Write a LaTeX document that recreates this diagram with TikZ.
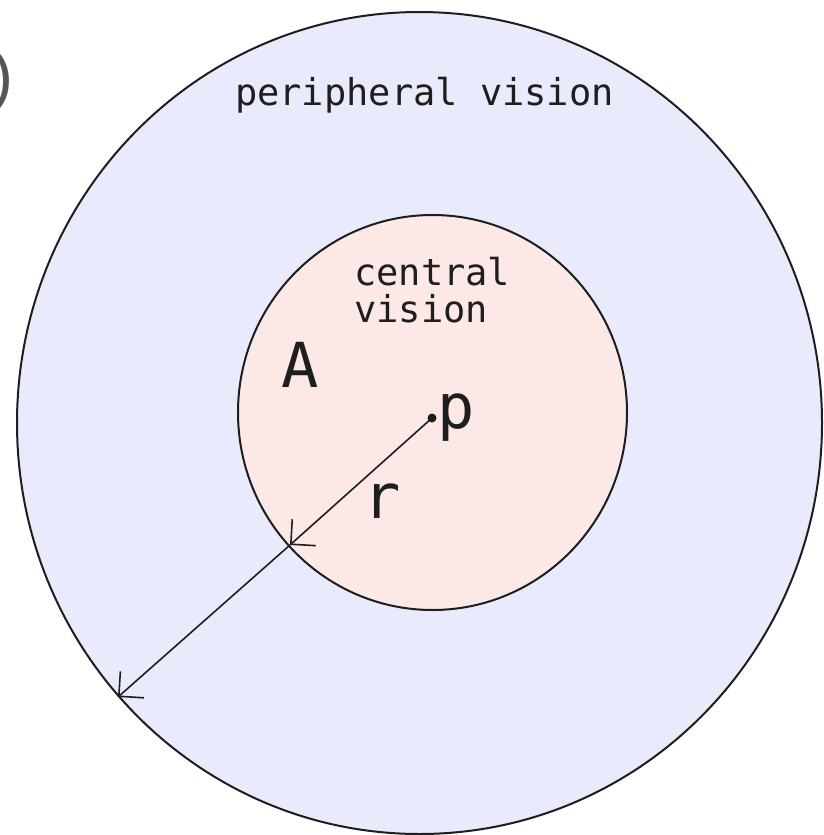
\documentclass[tikz,border=0pt]{standalone}
\usepackage{fontspec}
\setmonofont{DejaVu Sans Mono}
\newfontfamily\parenfont{Liberation Sans}
\usetikzlibrary{arrows.meta}
\definecolor{outerfill}{RGB}{233,235,252}
\definecolor{innerfill}{RGB}{253,232,232}
\definecolor{inkc}{RGB}{30,30,30}
\definecolor{parengray}{RGB}{85,85,85}
\begin{document}
\begin{tikzpicture}[x=1pt,y=-1pt,
  lbl/.style={font=\fontsize{37}{37}\selectfont\ttfamily, inner sep=0pt, text=inkc},
  big/.style={font=\fontsize{62}{62}\selectfont\ttfamily, inner sep=0pt, text=inkc},
  ring/.style={draw=inkc, line width=2pt},
  radiusarrow/.style={draw=inkc, line width=1.6pt, -{Straight Barb[length=17.7pt,width=35.4pt]}}]
\useasboundingbox (0,0) rectangle (823,835);
\fill[white] (0,0) rectangle (823,835);
\draw[ring, fill=outerfill] (419.5,423) ellipse [x radius=402.5pt, y radius=411pt];
\draw[ring, fill=innerfill] (432.5,412.5) ellipse [x radius=194.5pt, y radius=197.5pt];
\coordinate (p) at (432,418);
\coordinate (q1) at (290,545);
\coordinate (q2) at (118,697);
\draw[radiusarrow] (p) -- (q1);
\draw[radiusarrow] (q1) -- (q2);
\fill[inkc] (p) circle [radius=4.5pt];
\node[lbl, anchor=base] (pv) at (424.5,105) {peripheral vision};
\node[lbl, anchor=base west] (cv1) at (354,285) {central};
\node[lbl, anchor=base west] (cv2) at (354,322) {vision};
\node[big, anchor=base] (A) at (300,387) {A};
\node[big, anchor=base] (plab) at (456.5,428) {p};
\node[big, anchor=base] (rlab) at (382,518) {r};
\node[inner sep=0pt, font=\fontsize{66}{66}\selectfont\parenfont, anchor=base east, text=parengray] (paren) at (14,98) {)};
\end{tikzpicture}
\end{document}
